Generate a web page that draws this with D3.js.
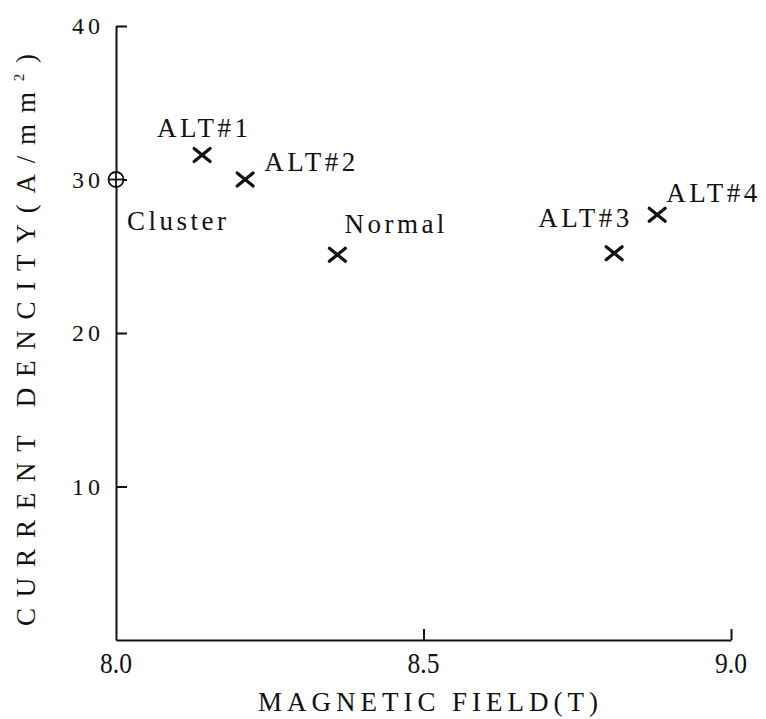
<!DOCTYPE html>
<html>
<head>
<meta charset="utf-8">
<script src="https://cdn.jsdelivr.net/npm/d3@7/dist/d3.min.js"></script>
<style>
  html, body { margin: 0; padding: 0; background: #fff; }
  svg { display: block; }
  text { font-family: "Liberation Serif", "DejaVu Serif", serif; fill: #111; }
</style>
</head>
<body>
<svg id="chart" width="766" height="719"></svg>
<script>
// Sample names, magnetic field (T) and current density (A/mm²)
const names   = ["Cluster", "ALT#1", "ALT#2", "Normal", "ALT#3", "ALT#4"];
const field   = [8.00, 8.14, 8.21, 8.36, 8.81, 8.88];
const density = [30.0, 31.6, 30.0, 25.1, 25.2, 27.7];
const kinds   = ["circle", "cross", "cross", "cross", "cross", "cross"];

const xTicks = [8.0, 8.5, 9.0];
const xTickLabels = ["8.0", "8.5", "9.0"];
const yTicks = [10, 20, 30, 40];
const yTickLabels = ["10", "20", "30", "40"];

// label placement relative to its marker (px)
const labelOffset = {
  "Cluster": [11, 50],
  "ALT#1":   [-45, -18],
  "ALT#2":   [19, -9],
  "Normal":  [7, -22],
  "ALT#3":   [-76, -26],
  "ALT#4":   [9, -13]
};

const svg = d3.select("#chart");
const plotL = 116, plotR = 731, plotT = 26, plotB = 640;

const x = d3.scaleLinear().domain([8.0, 9.0]).range([plotL, plotR]);
const y = d3.scaleLinear().domain([0, 40]).range([plotB, plotT]);

const ink = "#111";

// axes with inward ticks
const xAxis = d3.axisBottom(x).tickValues(xTicks).tickSize(-11).tickSizeOuter(0).tickFormat("");
const yAxis = d3.axisLeft(y).tickValues(yTicks).tickSize(-11).tickSizeOuter(0).tickFormat("");

const gx = svg.append("g").attr("transform", `translate(0,${plotB})`).call(xAxis);
const gy = svg.append("g").attr("transform", `translate(${plotL},0)`).call(yAxis);
[gx, gy].forEach(g => {
  g.select(".domain").attr("stroke", ink).attr("stroke-width", 2);
  g.selectAll(".tick line").attr("stroke", ink).attr("stroke-width", 2);
});
gx.selectAll(".tick").filter(d => d === 8.0).select("line").remove();

// tick labels
svg.append("g").selectAll("text").data(xTicks).join("text")
  .attr("x", d => x(d))
  .attr("y", plotB + 33)
  .attr("text-anchor", "middle")
  .attr("font-size", 29)
  .attr("transform", d => `translate(${x(d)},0) scale(0.88,1) translate(${-x(d)},0)`)
  .text((d, i) => xTickLabels[i]);

svg.append("g").selectAll("text").data(yTicks).join("text")
  .attr("x", plotL - 12)
  .attr("y", d => y(d) + 8)
  .attr("text-anchor", "end")
  .attr("font-size", 24)
  .attr("letter-spacing", 4)
  .text((d, i) => yTickLabels[i]);

// axis titles
svg.append("text")
  .attr("x", 258).attr("y", 711)
  .attr("font-size", 27)
  .attr("textLength", 340)
  .attr("lengthAdjust", "spacing")
  .text("MAGNETIC FIELD(T)");

const yt = svg.append("text")
  .attr("transform", "translate(35,626) rotate(-90)")
  .attr("font-size", 27)
  .attr("textLength", 572)
  .attr("lengthAdjust", "spacing");
yt.append("tspan").text("CURRENT DENCITY(A/mm");
yt.append("tspan").attr("font-size", 15).attr("dy", -11).text("2");
yt.append("tspan").attr("dy", 11).text(")");

// markers
const pts = names.map((n, i) => ({ name: n, fx: field[i], cd: density[i], kind: kinds[i] }));
const marks = svg.append("g").selectAll("g").data(pts).join("g")
  .attr("transform", d => `translate(${x(d.fx)},${y(d.cd)})`);

const armX = 8, armY = 6.5;
marks.filter(d => d.kind === "cross").each(function () {
  const g = d3.select(this);
  g.append("line").attr("x1", -armX).attr("y1", -armY).attr("x2", armX).attr("y2", armY);
  g.append("line").attr("x1", -armX).attr("y1", armY).attr("x2", armX).attr("y2", -armY);
  g.selectAll("line").attr("stroke", ink).attr("stroke-width", 3.2).attr("stroke-linecap", "round");
});

marks.filter(d => d.kind === "circle").each(function () {
  const g = d3.select(this);
  g.append("circle").attr("r", 7.5).attr("fill", "#fff").attr("stroke", ink).attr("stroke-width", 1.8);
  g.append("line").attr("x1", -7.5).attr("x2", 7.5).attr("y1", 0).attr("y2", 0);
  g.append("line").attr("x1", 0).attr("x2", 0).attr("y1", -7.5).attr("y2", 7.5);
  g.selectAll("line").attr("stroke", ink).attr("stroke-width", 1.8);
});

// point labels
svg.append("g").selectAll("text").data(pts).join("text")
  .attr("x", d => x(d.fx) + labelOffset[d.name][0])
  .attr("y", d => y(d.cd) + labelOffset[d.name][1])
  .attr("font-size", 27)
  .attr("letter-spacing", 3.5)
  .text(d => d.name);
</script>
</body>
</html>
